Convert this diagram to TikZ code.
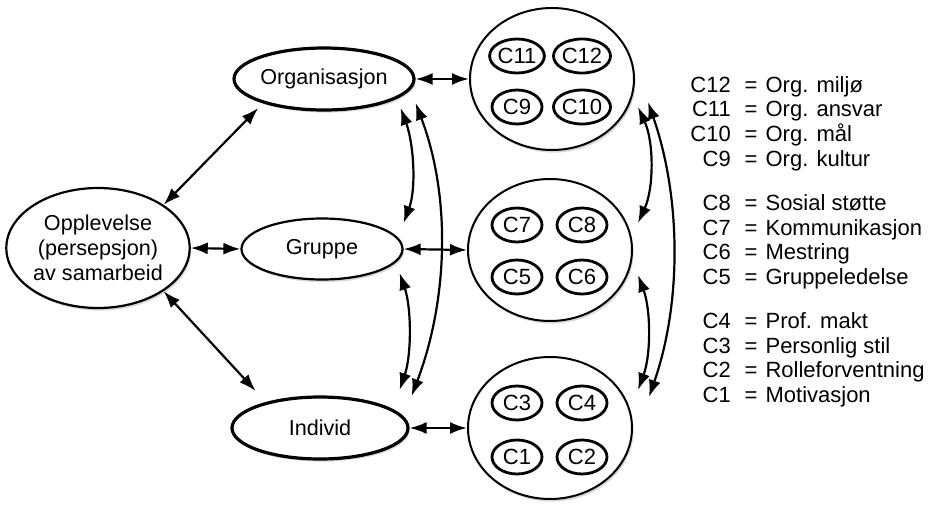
\documentclass[tikz,border=0pt]{standalone}
\usepackage{fontspec}
\setmainfont{Liberation Sans}
\usetikzlibrary{arrows.meta,shapes.geometric,shadows}

\begin{document}
\begin{tikzpicture}[x=0.5pt,y=-0.5pt,
  shade/.style={drop shadow={shadow xshift=0.8pt,shadow yshift=-1.3pt,opacity=0.3}},
  level/.style={ellipse,draw,fill=white,inner sep=0pt,shade,font=\fontsize{10.8}{12.5}\selectfont},
  cluster/.style={ellipse,draw,fill=white,inner sep=0pt,shade,line width=1pt,minimum width=82pt,minimum height=71pt},
  facet/.style={ellipse,draw,fill=white,inner sep=0pt,line width=1.4pt,minimum width=25pt,minimum height=17pt,font=\fontsize{11}{12}\selectfont},
  link/.style={{Latex[length=8.5pt,width=6pt]}-{Latex[length=8.5pt,width=6pt]},line width=1.1pt}]
\useasboundingbox (0,0) rectangle (928,509);

% levels
\node[level,line width=1.1pt,minimum width=88pt,minimum height=60pt,align=center] (opp) at (98,248) {Opplevelse\\(persepsjon)\\av samarbeid};
\node[level,line width=1.6pt,minimum width=89pt,minimum height=31pt] (org) at (324,79) {Organisasjon};
\node[level,line width=1.1pt,minimum width=80.5pt,minimum height=30.5pt] (grp) at (322,249) {Gruppe};
\node[level,line width=1.6pt,minimum width=88pt,minimum height=31pt] (ind) at (320,428) {Individ};

% clusters of factors
\node[cluster] (top) at (552,79) {};
\node[cluster] (mid) at (550,250) {};
\node[cluster] (bot) at (550,428) {};

\node[facet] (c11) at (517,56) {C11};
\node[facet] (c12) at (582,56) {C12};
\node[facet] (c9) at (517,107) {C9};
\node[facet] (c10) at (582,107) {C10};
\node[facet] (c7) at (517,225) {C7};
\node[facet] (c8) at (582,225) {C8};
\node[facet] (c5) at (517,277) {C5};
\node[facet] (c6) at (582,277) {C6};
\node[facet] (c3) at (517,403) {C3};
\node[facet] (c4) at (582,403) {C4};
\node[facet] (c1) at (517,457) {C1};
\node[facet] (c2) at (582,457) {C2};

% links
\draw[link] (opp.north east) -- ([shift={(-1,6)}]org.south west);
\draw[link] (opp.east) -- (grp.west);
\draw[link] (opp.south east) -- ([shift={(-1,-14)}]ind.north west);
\draw[link] (org.east) -- (top.west);
\draw[link] (grp.east) -- (mid.west);
\draw[link] (ind.east) -- (bot.west);
\draw[link] ([shift={(-15,29)}]org.east) .. controls +(13,35) and +(13,-35) .. ([shift={(0,-26)}]grp.east);
\draw[link] ([shift={(-4,24)}]grp.east) .. controls +(12,35) and +(12,-35) .. ([shift={(-10,-38)}]ind.east);
\draw[link] ([shift={(0,24)}]org.east) .. controls +(36,95) and +(36,-95) .. ([shift={(2,-32)}]ind.east);
\draw[link] ([shift={(3,28)}]top.east) .. controls +(16,35) and +(16,-35) .. ([shift={(5,-27)}]mid.east);
\draw[link] ([shift={(5,25)}]mid.east) .. controls +(13,35) and +(13,-35) .. ([shift={(5,-38)}]bot.east);
\draw[link] ([shift={(13,23)}]top.east) .. controls +(33,95) and +(33,-95) .. ([shift={(16,-31)}]bot.east);

% legend
\node[anchor=base west,inner sep=0pt] (legend) at (690,92) {\fontsize{11}{12.25}\selectfont
  \begin{tabular}[t]{@{}r@{\hspace{7pt}=\hspace{4pt}}l@{}}
  C12 & Org. miljø\\
  C11 & Org. ansvar\\
  C10 & Org. mål\\
  C9 & Org. kultur\\[10pt]
  C8 & Sosial støtte\\
  C7 & Kommunikasjon\\
  C6 & Mestring\\
  C5 & Gruppeledelse\\[10pt]
  C4 & Prof. makt\\
  C3 & Personlig stil\\
  C2 & Rolleforventning\\
  C1 & Motivasjon
  \end{tabular}};
\end{tikzpicture}
\end{document}
